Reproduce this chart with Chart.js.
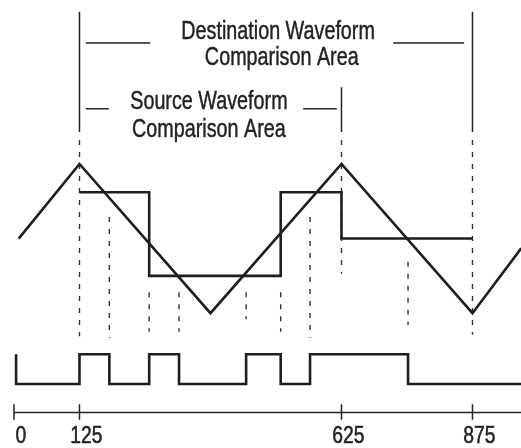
<!DOCTYPE html>
<html><head><meta charset="utf-8">
<script src="https://cdn.jsdelivr.net/npm/chart.js@4.4.0/dist/chart.umd.min.js"></script>
<style>html,body{margin:0;padding:0;background:#fff;}canvas{display:block;}</style>
</head><body>
<canvas id="c" width="521" height="448"></canvas>
<script>
// ---- data (x in sample units, y in arbitrary levels: triangle swings ±1) ----
const tickValues = [0, 125, 625, 875];

const triangleX = [9, 125, 375, 625, 875, 968];
const triangleY = [0, 1, -1, 1, -1, -0.13];

const sourceX = [125, 258, 258, 509, 509, 625, 625, 875];
const sourceY = [0.62, 0.62, -0.5, -0.5, 0.62, 0.62, 0, 0];

const digitalX = [4, 4, 125, 125, 182, 182, 258, 258, 315, 315, 443, 443, 509, 509, 565, 565, 752, 752, 968];
const digitalY = [-1.55, -1.95, -1.95, -1.55, -1.55, -1.95, -1.95, -1.55, -1.55, -1.95, -1.95, -1.55, -1.55, -1.95, -1.95, -1.55, -1.55, -1.95, -1.95];

const markerX = [125, 182, 258, 315, 443, 509, 565, 625, 752, 875];
const markerTop = [1.32, 0.29, -0.72, -0.72, -0.72, -0.72, 0.29, 1.32, -0.31, 1.32];
const markerBottom = [-1.31, -1.33, -1.25, -1.25, -1.08, -1.25, -1.33, -0.47, -1.16, -1.29];

const bracketX = [125, 625, 875];
const bracketTop = [3.04, 2.03, 3.04];
const bracketBottom = [1.43, 1.43, 1.43];

const leaderX1 = [137, 724, 137, 552];
const leaderX2 = [260, 859, 181, 616];
const leaderY = [2.62, 2.62, 1.74, 1.74];

const labelLines = ["Destination Waveform", "Comparison Area", "Source Waveform", "Comparison Area"];
const labelX = [504, 511, 372, 372];
const labelY = [2.673, 2.328, 1.734, 1.367];

const axisX = [0, 968];
const axisY = -2.33;
const tickTop = -2.22, tickBottom = -2.43;

// ---- helpers ----
const FONT = '"Liberation Sans", Arial, Helvetica, sans-serif';
const CONDENSE = 0.76;      // Helvetica-Condensed look: horizontal squeeze
function poly(xs, ys) { return xs.map((x, i) => ({x: x, y: ys[i]})); }
function segs(x1, y1, x2, y2) {
  const pts = [];
  for (let i = 0; i < x1.length; i++) {
    pts.push({x: x1[i], y: y1[i]}, {x: x2[i], y: y2[i]}, {x: x2[i], y: null});
  }
  return pts;
}
const thick = {showLine: true, borderColor: '#1e1e1e', borderWidth: 2.6, borderJoinStyle: 'miter', borderCapStyle: 'butt', pointRadius: 0, spanGaps: false};
const thin = {showLine: true, borderColor: '#222', borderWidth: 1.5, borderCapStyle: 'butt', pointRadius: 0, spanGaps: false};

const axisPts = segs([axisX[0]].concat(tickValues), [axisY].concat(tickValues.map(() => tickTop)),
                     [axisX[1]].concat(tickValues), [axisY].concat(tickValues.map(() => tickBottom)));

const datasets = [
  Object.assign({data: poly(triangleX, triangleY)}, thick),
  Object.assign({data: poly(sourceX, sourceY)}, thick),
  Object.assign({data: poly(digitalX, digitalY)}, thick),
  Object.assign({data: segs(markerX, markerTop, markerX, markerBottom), borderDash: [5, 7]}, thin, {borderColor: '#333', borderWidth: 1.4}),
  Object.assign({data: segs(bracketX, bracketTop, bracketX, bracketBottom)}, thin),
  Object.assign({data: segs(leaderX1, leaderY, leaderX2, leaderY)}, thin),
  Object.assign({data: axisPts}, thin)
];

// condensed tick labels: squeeze text drawn while the scales are painted
let origFill = null, origStroke = null;
const condensePlugin = {
  id: 'condenseTicks',
  beforeDraw(chart) {
    const ctx = chart.ctx;
    origFill = ctx.fillText; origStroke = ctx.strokeText;
    ctx.fillText = function (t, x, y, mw) {
      const w = this.measureText(t).width * 0.84;
      return origFill.call(this, t, x, y, mw !== undefined ? Math.min(mw, w) : w);
    };
    ctx.strokeText = function (t, x, y, mw) {
      const w = this.measureText(t).width * 0.84;
      return origStroke.call(this, t, x, y, mw !== undefined ? Math.min(mw, w) : w);
    };
  },
  beforeDatasetsDraw(chart) {
    if (origFill) { chart.ctx.fillText = origFill; chart.ctx.strokeText = origStroke; origFill = null; }
  }
};

const textPlugin = {
  id: 'areaText',
  afterDatasetsDraw(chart) {
    const {ctx, scales: {x, y}} = chart;
    ctx.save();
    ctx.fillStyle = '#222';
    ctx.strokeStyle = '#222';
    ctx.lineWidth = 0.45;
    ctx.font = '26px ' + FONT;
    ctx.textAlign = 'center';
    ctx.textBaseline = 'alphabetic';
    labelLines.forEach((t, i) => {
      const w = ctx.measureText(t).width * CONDENSE;
      const px = x.getPixelForValue(labelX[i]), py = y.getPixelForValue(labelY[i]);
      ctx.fillText(t, px, py, w);
      ctx.strokeText(t, px, py, w);
    });
    ctx.restore();
  }
};

new Chart(document.getElementById('c'), {
  type: 'scatter',
  data: {datasets: datasets},
  options: {
    responsive: false, animation: false, devicePixelRatio: 1,
    layout: {padding: 0},
    plugins: {legend: {display: false}, tooltip: {enabled: false}},
    elements: {line: {tension: 0}},
    scales: {
      x: {
        type: 'linear', min: -26.7, max: 967.6, position: 'bottom',
        grid: {display: false, drawTicks: false}, border: {display: false},
        afterBuildTicks: (ax) => { ax.ticks = tickValues.map(v => ({value: v})); },
        ticks: {autoSkip: false, maxRotation: 0, padding: 0, labelOffset: 7, color: '#222',
                textStrokeColor: '#222', textStrokeWidth: 0.5,
                font: {family: FONT, size: 23, lineHeight: 1}}
      },
      y: {display: false, min: -2.499, max: 3.198}
    }
  },
  plugins: [condensePlugin, textPlugin]
});
</script>
</body></html>
